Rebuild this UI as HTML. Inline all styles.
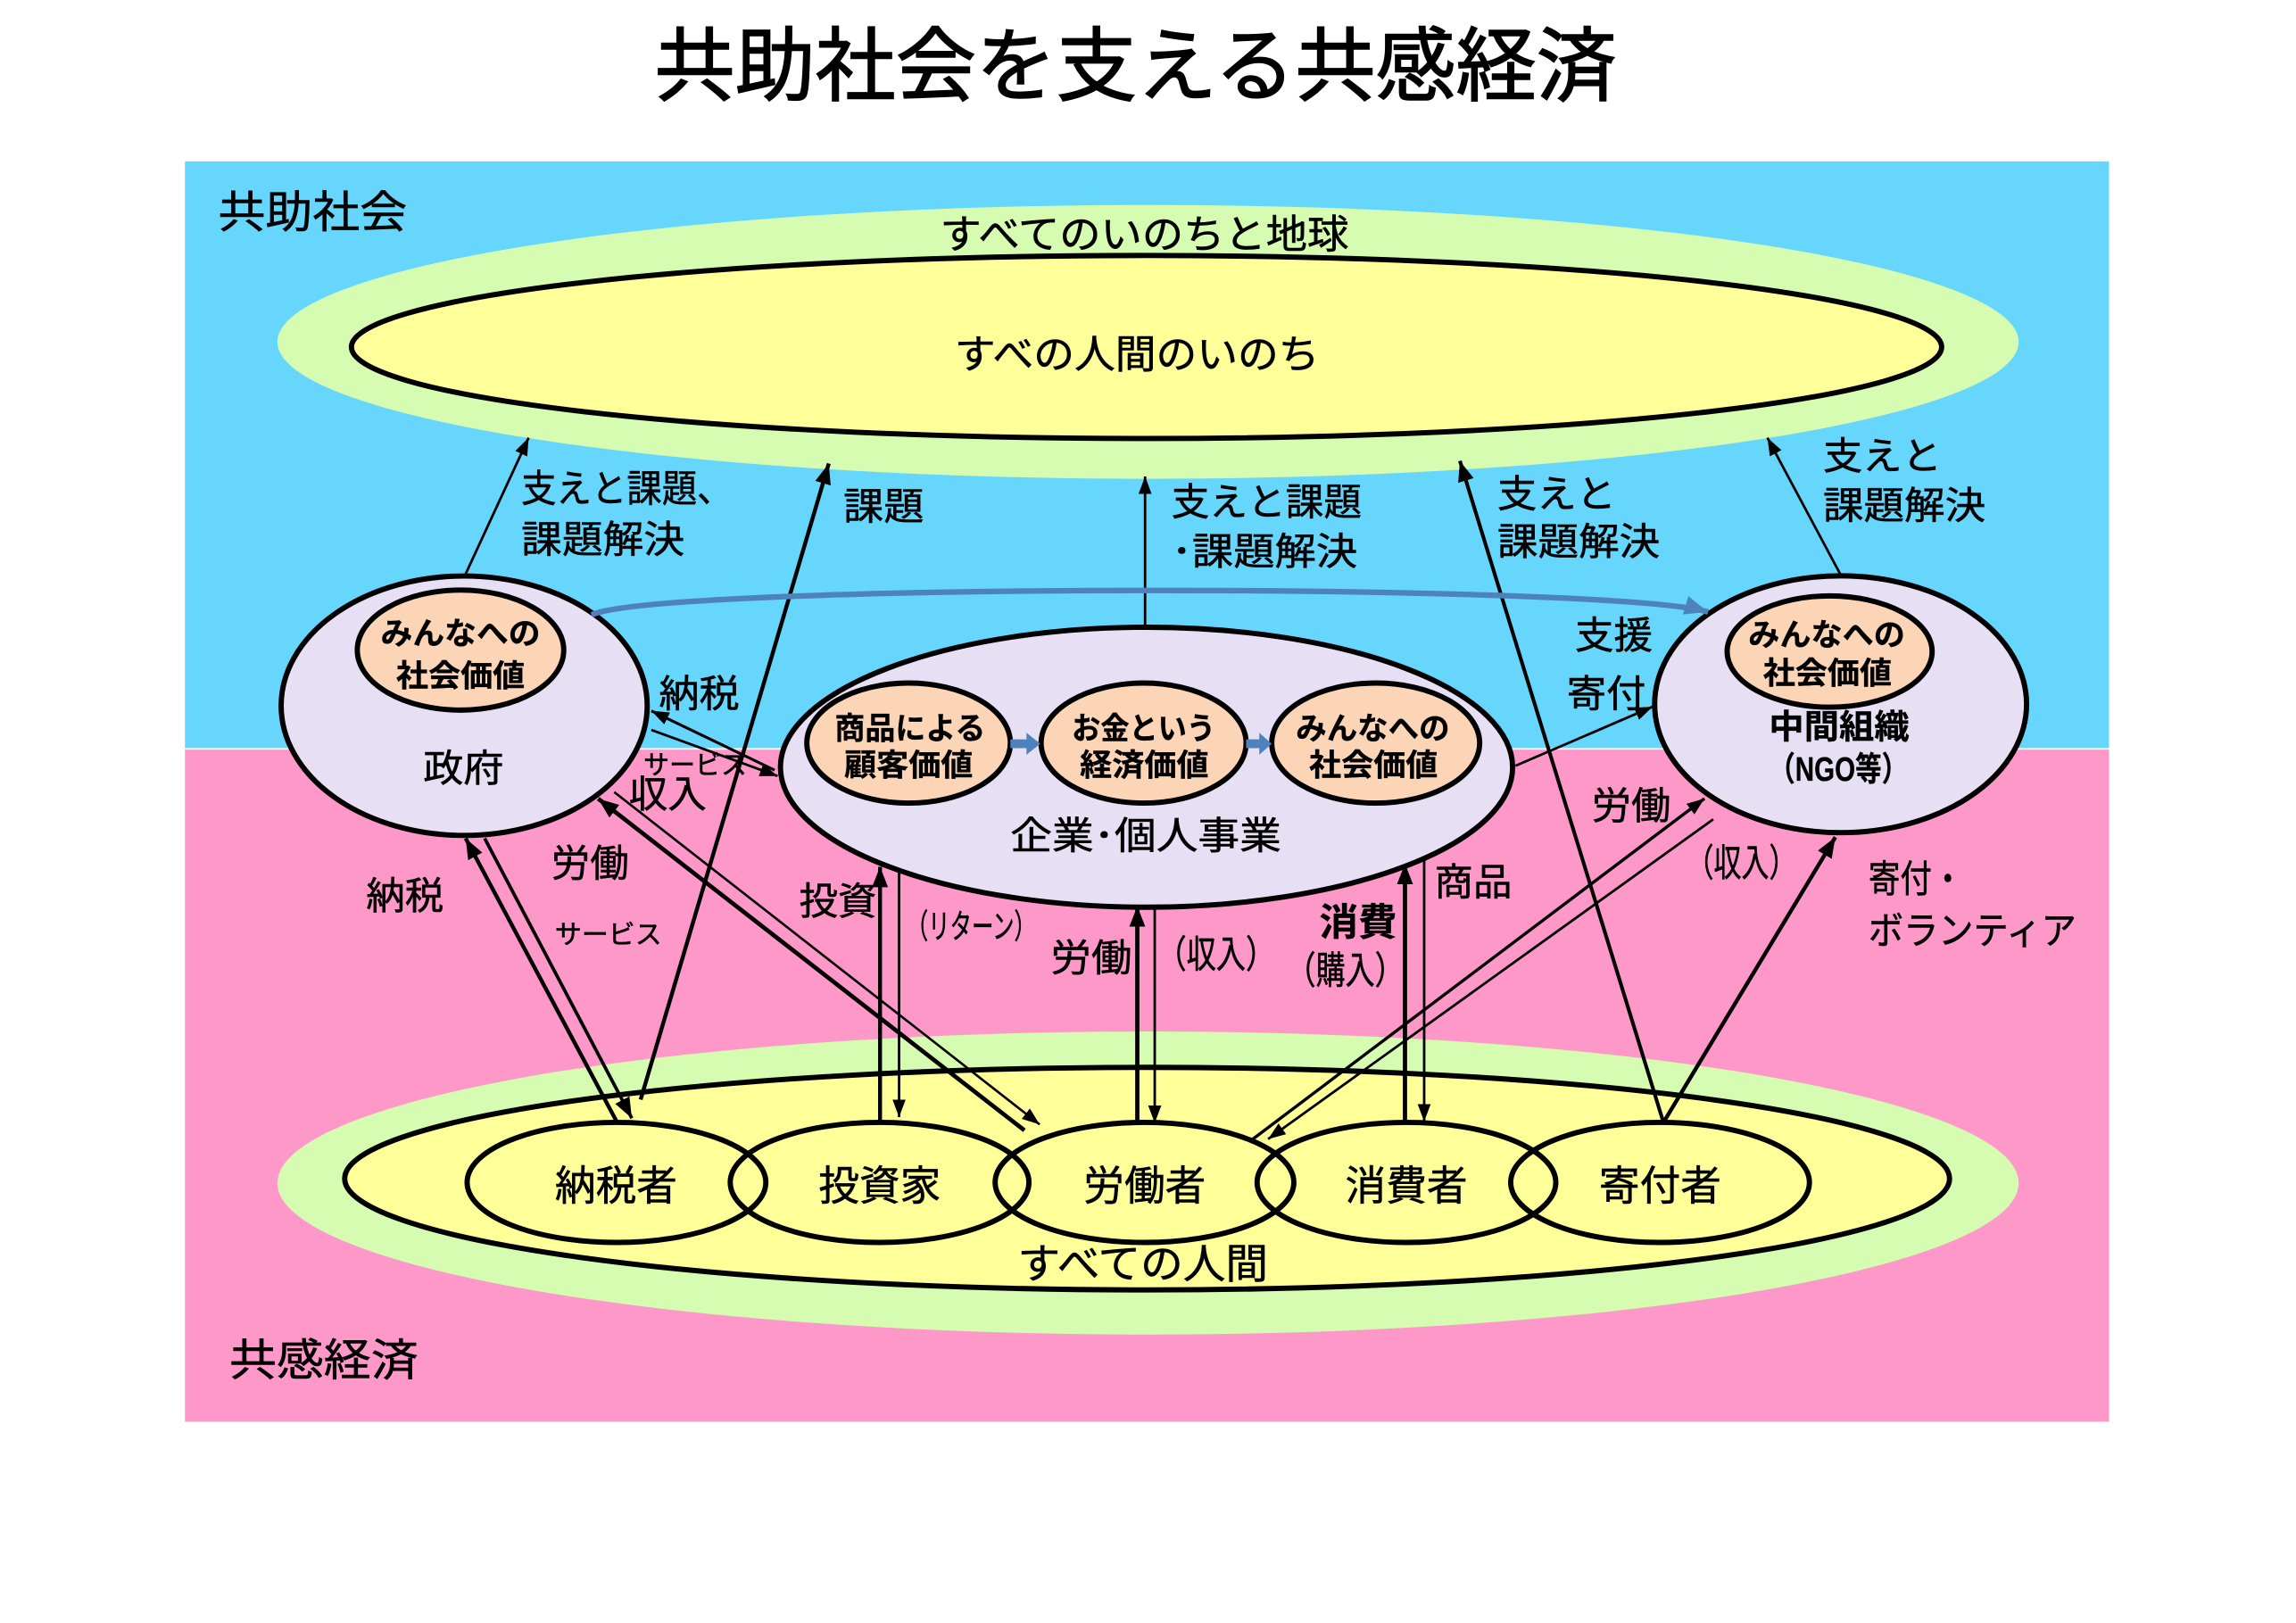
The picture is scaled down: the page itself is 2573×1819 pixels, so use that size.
<!DOCTYPE html>
<html><head><meta charset="utf-8">
<style>
html,body{margin:0;padding:0;background:#fff;overflow:hidden;}
svg{display:block;}
text{font-family:"Liberation Sans","Noto Sans CJK JP",sans-serif;fill:#000;stroke:#000;stroke-width:0.35;}
.b{font-weight:bold;stroke-width:0.2;}
</style></head>
<body>
<svg width="2573" height="1819" viewBox="0 0 1568 1108.5" preserveAspectRatio="none" xmlns="http://www.w3.org/2000/svg">
<defs>
<marker id="at" markerUnits="userSpaceOnUse" markerWidth="13" markerHeight="9" refX="12" refY="4.5" orient="auto"><path d="M0,0 L12,4.5 L0,9 z" fill="#000"/></marker>
<marker id="ak" markerUnits="userSpaceOnUse" markerWidth="15" markerHeight="11" refX="14" refY="5.5" orient="auto"><path d="M0,0 L14,5.5 L0,11 z" fill="#000"/></marker>
<marker id="ab" markerUnits="userSpaceOnUse" markerWidth="17" markerHeight="13" refX="16" refY="6.5" orient="auto"><path d="M0,0 L16,6.5 L0,13 z" fill="#4f81bd"/></marker>
</defs>

<!-- backgrounds -->
<rect x="126.3" y="110.2" width="1314" height="401.3" fill="#66d6fd"/>
<rect x="126.3" y="511.5" width="1314" height="459.5" fill="#fe98c9"/>
<line x1="126.3" y1="511.5" x2="1440.3" y2="511.5" stroke="#ffffff" stroke-width="1"/>

<!-- title -->
<text x="447" y="64.4" font-size="55" textLength="657" lengthAdjust="spacingAndGlyphs" style="stroke-width:0.9">共助社会を支える共感経済</text>
<text x="149" y="155.4" font-size="30" textLength="129" lengthAdjust="spacingAndGlyphs">共助社会</text>
<text x="156.6" y="939.4" font-size="30" textLength="129" lengthAdjust="spacingAndGlyphs">共感経済</text>

<!-- top ellipses -->
<ellipse cx="784" cy="233.5" rx="594.6" ry="93.5" fill="#d5fcb1"/>
<ellipse cx="783" cy="237" rx="543" ry="62.5" fill="#ffff99" stroke="#000" stroke-width="3.6"/>
<text x="642" y="169.3" font-size="27" textLength="279" lengthAdjust="spacingAndGlyphs">すべてのいのちと地球</text>
<text x="652" y="251.3" font-size="27" textLength="249" lengthAdjust="spacingAndGlyphs">すべの人間のいのち</text>

<!-- bottom ellipses -->
<ellipse cx="784" cy="808" rx="594.6" ry="103.5" fill="#d5fcb1"/>
<ellipse cx="783.4" cy="805" rx="548" ry="76" fill="#ffff99" stroke="#000" stroke-width="3.6"/>
<ellipse cx="421" cy="807.6" rx="102" ry="41" fill="none" stroke="#000" stroke-width="3.6"/>
<ellipse cx="600.7" cy="807.6" rx="102" ry="41" fill="none" stroke="#000" stroke-width="3.6"/>
<ellipse cx="781.6" cy="807.6" rx="102" ry="41" fill="none" stroke="#000" stroke-width="3.6"/>
<ellipse cx="960.5" cy="807.6" rx="102" ry="41" fill="none" stroke="#000" stroke-width="3.6"/>
<ellipse cx="1133.7" cy="807.6" rx="102" ry="41" fill="none" stroke="#000" stroke-width="3.6"/>
<text x="379" y="819.6" font-size="28" textLength="83.5" lengthAdjust="spacingAndGlyphs">納税者</text>
<text x="559" y="819.6" font-size="28" textLength="83.5" lengthAdjust="spacingAndGlyphs">投資家</text>
<text x="740" y="819.6" font-size="28" textLength="83.5" lengthAdjust="spacingAndGlyphs">労働者</text>
<text x="918.7" y="819.6" font-size="28" textLength="83.5" lengthAdjust="spacingAndGlyphs">消費者</text>
<text x="1092" y="819.6" font-size="28" textLength="83.5" lengthAdjust="spacingAndGlyphs">寄付者</text>
<text x="695" y="873.1" font-size="28" textLength="171" lengthAdjust="spacingAndGlyphs">すべての人間</text>

<!-- connectors -->
<g fill="none" stroke="#000" stroke-linecap="butt">
  <line x1="318" y1="392" x2="361" y2="299" stroke-width="1.7" marker-end="url(#at)"/>
  <line x1="437.5" y1="751" x2="566" y2="316.6" stroke-width="2.7" marker-end="url(#ak)"/>
  <line x1="782" y1="429" x2="782" y2="325.4" stroke-width="1.7" marker-end="url(#at)"/>
  <line x1="1136" y1="766.6" x2="997" y2="314.8" stroke-width="2.5" marker-end="url(#ak)"/>
  <line x1="1257.5" y1="393.5" x2="1207" y2="299" stroke-width="1.7" marker-end="url(#at)"/>
  <line x1="529" y1="526" x2="444.8" y2="485.5" stroke-width="1.9" marker-end="url(#at)"/>
  <line x1="444.8" y1="498.5" x2="531" y2="530" stroke-width="1.7" marker-end="url(#at)"/>
  <line x1="699.6" y1="772" x2="408.5" y2="545.5" stroke-width="2.9" marker-end="url(#ak)"/>
  <line x1="419.5" y1="541" x2="710" y2="768" stroke-width="1.6" marker-end="url(#at)"/>
  <line x1="421.5" y1="766.7" x2="318" y2="572.6" stroke-width="2.7" marker-end="url(#ak)"/>
  <line x1="331" y1="572.6" x2="431.5" y2="763.7" stroke-width="2.3" marker-end="url(#ak)"/>
  <line x1="601" y1="766.6" x2="601" y2="592" stroke-width="2.7" marker-end="url(#ak)"/>
  <line x1="614" y1="595" x2="614" y2="763" stroke-width="1.7" marker-end="url(#at)"/>
  <line x1="776.7" y1="768" x2="776.7" y2="619" stroke-width="2.9" marker-end="url(#ak)"/>
  <line x1="788.6" y1="619" x2="788.6" y2="767" stroke-width="1.7" marker-end="url(#at)"/>
  <line x1="959.5" y1="766.6" x2="959.5" y2="590" stroke-width="2.9" marker-end="url(#ak)"/>
  <line x1="972.6" y1="585" x2="972.6" y2="766" stroke-width="1.7" marker-end="url(#at)"/>
  <line x1="855.6" y1="778" x2="1164" y2="545.4" stroke-width="2.1" marker-end="url(#at)"/>
  <line x1="1170" y1="559.6" x2="866" y2="778" stroke-width="1.7" marker-end="url(#at)"/>
  <line x1="1136" y1="766.6" x2="1253.4" y2="571.8" stroke-width="2.7" marker-end="url(#ak)"/>
  <line x1="1035" y1="523" x2="1128.6" y2="482.7" stroke-width="1.7" marker-end="url(#at)"/>
</g>

<!-- gov -->
<ellipse cx="317" cy="482" rx="125" ry="88.6" fill="#e7e0f4" stroke="#000" stroke-width="3.6"/>
<ellipse cx="314.5" cy="444" rx="70.5" ry="41" fill="#fbd5b5" stroke="#000" stroke-width="3.6"/>
<text class="b" x="260" y="440" font-size="21" textLength="109" lengthAdjust="spacingAndGlyphs">みんなへの</text>
<text class="b" x="270.5" y="469" font-size="21" textLength="88" lengthAdjust="spacingAndGlyphs">社会価値</text>
<text x="289" y="533.9" font-size="26" textLength="55" lengthAdjust="spacingAndGlyphs">政府</text>

<!-- enterprise -->
<ellipse cx="783" cy="524" rx="250" ry="95.6" fill="#e7e0f4" stroke="#000" stroke-width="3.6"/>
<ellipse cx="620.5" cy="507.5" rx="69.5" ry="41" fill="#fbd5b5" stroke="#000" stroke-width="3.6"/>
<ellipse cx="781" cy="507.5" rx="70" ry="41" fill="#fbd5b5" stroke="#000" stroke-width="3.6"/>
<ellipse cx="939.5" cy="507.5" rx="71" ry="41" fill="#fbd5b5" stroke="#000" stroke-width="3.6"/>
<polygon points="690,505 701,505 701,500.5 710.5,508 701,515.5 701,511 690,511" fill="#4f81bd"/>
<polygon points="851,505 860,505 860,500.5 868.5,508 860,515.5 860,511 851,511" fill="#4f81bd"/>
<text class="b" x="570" y="505" font-size="21" textLength="103" lengthAdjust="spacingAndGlyphs">商品による</text>
<text class="b" x="576.5" y="530" font-size="21" textLength="88" lengthAdjust="spacingAndGlyphs">顧客価値</text>
<text class="b" x="732" y="505" font-size="21" textLength="98" lengthAdjust="spacingAndGlyphs">お金という</text>
<text class="b" x="737.5" y="530" font-size="21" textLength="88" lengthAdjust="spacingAndGlyphs">経済価値</text>
<text class="b" x="885" y="505" font-size="21" textLength="105" lengthAdjust="spacingAndGlyphs">みんなへの</text>
<text class="b" x="894" y="530" font-size="21" textLength="88" lengthAdjust="spacingAndGlyphs">社会価値</text>
<text x="690" y="579.9" font-size="26" textLength="185" lengthAdjust="spacingAndGlyphs">企業･個人事業</text>

<!-- NGO -->
<ellipse cx="1257" cy="481" rx="127" ry="87.7" fill="#e7e0f4" stroke="#000" stroke-width="3.6"/>
<ellipse cx="1249.5" cy="445" rx="70" ry="38" fill="#fbd5b5" stroke="#000" stroke-width="3.6"/>
<text class="b" x="1194" y="441" font-size="21" textLength="107" lengthAdjust="spacingAndGlyphs">みんなへの</text>
<text class="b" x="1204" y="467" font-size="21" textLength="88" lengthAdjust="spacingAndGlyphs">社会価値</text>
<text class="b" x="1208" y="504.4" font-size="23" textLength="96" lengthAdjust="spacingAndGlyphs">中間組織</text>
<text class="b" x="1208" y="533.2" font-size="23" textLength="95" lengthAdjust="spacingAndGlyphs">（NGO等）</text>

<!-- blue curve -->
<path d="M404,420 C450,398 1100,398 1166.5,418" fill="none" stroke="#4f81bd" stroke-width="3.8" marker-end="url(#ab)"/>

<!-- labels -->
<text x="356" y="342.9" font-size="26" textLength="144" lengthAdjust="spacingAndGlyphs">支えと課題、</text>
<text x="356" y="377.4" font-size="26" textLength="111.5" lengthAdjust="spacingAndGlyphs">課題解決</text>
<text x="576" y="354.9" font-size="26" textLength="55" lengthAdjust="spacingAndGlyphs">課題</text>
<text x="800" y="351.9" font-size="26" textLength="130" lengthAdjust="spacingAndGlyphs">支えと課題</text>
<text x="800" y="385.9" font-size="26" textLength="127" lengthAdjust="spacingAndGlyphs">･課題解決</text>
<text x="1022.6" y="346.4" font-size="26" textLength="81" lengthAdjust="spacingAndGlyphs">支えと</text>
<text x="1022.6" y="378.9" font-size="26" textLength="111" lengthAdjust="spacingAndGlyphs">課題解決</text>
<text x="1245" y="320.4" font-size="26" textLength="81" lengthAdjust="spacingAndGlyphs">支えと</text>
<text x="1245" y="354.4" font-size="26" textLength="111" lengthAdjust="spacingAndGlyphs">課題解決</text>
<text x="1075.6" y="442.9" font-size="26" textLength="53" lengthAdjust="spacingAndGlyphs">支援</text>
<text x="1070" y="482.9" font-size="26" textLength="54" lengthAdjust="spacingAndGlyphs">寄付</text>
<text x="450" y="482.9" font-size="26" textLength="55" lengthAdjust="spacingAndGlyphs">納税</text>
<text x="439.5" y="528.8" font-size="18" textLength="70.5" lengthAdjust="spacingAndGlyphs">サービス</text>
<text x="429.5" y="551.4" font-size="26" textLength="53" lengthAdjust="spacingAndGlyphs">収入</text>
<text x="250" y="620.9" font-size="26" textLength="53" lengthAdjust="spacingAndGlyphs">納税</text>
<text x="376.5" y="598.6" font-size="26" textLength="53" lengthAdjust="spacingAndGlyphs">労働</text>
<text x="379" y="644.3" font-size="18" textLength="73" lengthAdjust="spacingAndGlyphs">サービス</text>
<text x="545.7" y="624.7" font-size="26" textLength="53" lengthAdjust="spacingAndGlyphs">投資</text>
<text x="619" y="640.7" font-size="23" textLength="88.5" lengthAdjust="spacingAndGlyphs">（リターン）</text>
<text x="717.5" y="663.4" font-size="26" textLength="55.5" lengthAdjust="spacingAndGlyphs">労働</text>
<text x="790" y="660.9" font-size="26" textLength="81" lengthAdjust="spacingAndGlyphs">（収入）</text>
<text class="b" x="901" y="638.9" font-size="26" textLength="53" lengthAdjust="spacingAndGlyphs">消費</text>
<text x="878.5" y="671.9" font-size="26" textLength="80.5" lengthAdjust="spacingAndGlyphs">（購入）</text>
<text x="979.6" y="611.6" font-size="26" textLength="53" lengthAdjust="spacingAndGlyphs">商品</text>
<text x="1087" y="559.3" font-size="26" textLength="54" lengthAdjust="spacingAndGlyphs">労働</text>
<text x="1151.5" y="598.4" font-size="26" textLength="75.5" lengthAdjust="spacingAndGlyphs">（収入）</text>
<text x="1276" y="609.4" font-size="26" textLength="65" lengthAdjust="spacingAndGlyphs">寄付・</text>
<text x="1276" y="644.6" font-size="26" textLength="142" lengthAdjust="spacingAndGlyphs">ボランティア</text>
</svg>
</body></html>
